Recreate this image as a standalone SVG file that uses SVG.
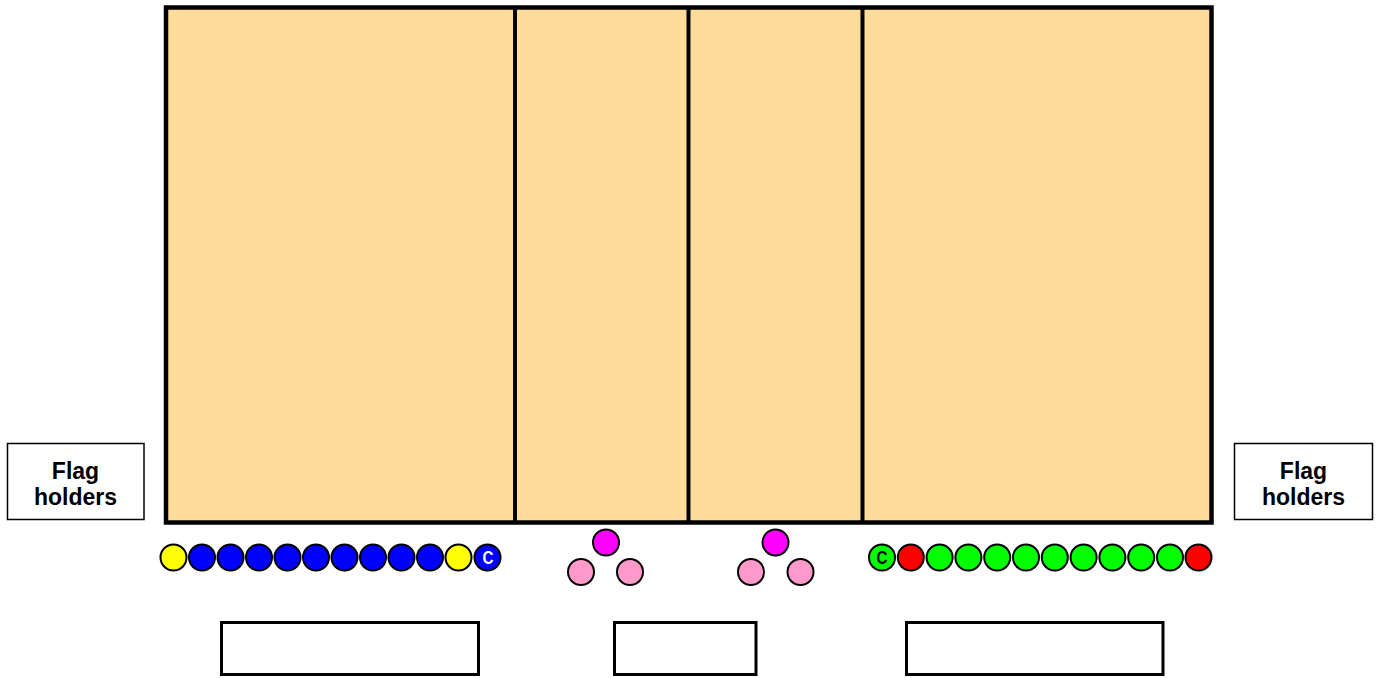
<svg xmlns="http://www.w3.org/2000/svg" width="1379" height="678" viewBox="0 0 1379 678">
<style>
.court{fill:#FFDC99;stroke:#000;stroke-width:4.5}
.div{stroke:#000;stroke-width:4}
.flag{fill:#fff;stroke:#000;stroke-width:1.5}
.lbl{font-family:"Liberation Sans",Arial,sans-serif;font-weight:bold;font-size:23px;text-anchor:middle;fill:#000}
.p{stroke:#000;stroke-width:2}
.bx{fill:#fff;stroke:#000;stroke-width:3}
.c{font-family:"Liberation Sans",Arial,sans-serif;font-weight:bold;font-size:19px;text-anchor:middle}
</style>
<g id="court">
<rect class="court" x="166" y="7.5" width="1045.5" height="515"/>
<line class="div" x1="515" y1="7.5" x2="515" y2="522.5"/>
<line class="div" x1="688.5" y1="7.5" x2="688.5" y2="522.5"/>
<line class="div" x1="862.5" y1="7.5" x2="862.5" y2="522.5"/>
</g>
<g id="flag-left">
<rect class="flag" x="7.5" y="443.5" width="136.5" height="76"/>
<text class="lbl" x="75.5" y="479">Flag</text>
<text class="lbl" x="75.5" y="505">holders</text>
</g>
<g id="flag-right">
<rect class="flag" x="1234.5" y="443.5" width="138" height="76"/>
<text class="lbl" x="1303.5" y="479">Flag</text>
<text class="lbl" x="1303.5" y="505">holders</text>
</g>
<g id="team-left">
<circle class="p" cx="173.5" cy="557.5" r="13" fill="#FFFF00"/>
<circle class="p" cx="202" cy="557.5" r="13" fill="#0000FF"/>
<circle class="p" cx="230.5" cy="557.5" r="13" fill="#0000FF"/>
<circle class="p" cx="259" cy="557.5" r="13" fill="#0000FF"/>
<circle class="p" cx="287.5" cy="557.5" r="13" fill="#0000FF"/>
<circle class="p" cx="316" cy="557.5" r="13" fill="#0000FF"/>
<circle class="p" cx="344.5" cy="557.5" r="13" fill="#0000FF"/>
<circle class="p" cx="373" cy="557.5" r="13" fill="#0000FF"/>
<circle class="p" cx="401.5" cy="557.5" r="13" fill="#0000FF"/>
<circle class="p" cx="430" cy="557.5" r="13" fill="#0000FF"/>
<circle class="p" cx="458.5" cy="557.5" r="13" fill="#FFFF00"/>
<circle class="p" cx="487.5" cy="557.5" r="13" fill="#0000FF"/>
<text class="c" x="488" y="564.5" fill="#fff" transform="translate(488 0) scale(0.8 1) translate(-488 0)">C</text>
</g>
<g id="refs-1">
<circle class="p" cx="606" cy="542.5" r="13" fill="#FF00FF"/>
<circle class="p" cx="581" cy="572" r="13" fill="#FF99CC"/>
<circle class="p" cx="630" cy="572" r="13" fill="#FF99CC"/>
</g>
<g id="refs-2">
<circle class="p" cx="775.5" cy="542.5" r="13" fill="#FF00FF"/>
<circle class="p" cx="751" cy="572" r="13" fill="#FF99CC"/>
<circle class="p" cx="800.5" cy="572" r="13" fill="#FF99CC"/>
</g>
<g id="team-right">
<circle class="p" cx="882" cy="557.5" r="13" fill="#00FF00"/>
<text class="c" x="882" y="564.5" fill="#000" transform="translate(882 0) scale(0.8 1) translate(-882 0)">C</text>
<circle class="p" cx="910.8" cy="557.5" r="13" fill="#FF0000"/>
<circle class="p" cx="939.6" cy="557.5" r="13" fill="#00FF00"/>
<circle class="p" cx="968.4" cy="557.5" r="13" fill="#00FF00"/>
<circle class="p" cx="997.2" cy="557.5" r="13" fill="#00FF00"/>
<circle class="p" cx="1026" cy="557.5" r="13" fill="#00FF00"/>
<circle class="p" cx="1054.8" cy="557.5" r="13" fill="#00FF00"/>
<circle class="p" cx="1083.6" cy="557.5" r="13" fill="#00FF00"/>
<circle class="p" cx="1112.4" cy="557.5" r="13" fill="#00FF00"/>
<circle class="p" cx="1141.2" cy="557.5" r="13" fill="#00FF00"/>
<circle class="p" cx="1170" cy="557.5" r="13" fill="#00FF00"/>
<circle class="p" cx="1198.5" cy="557.5" r="13" fill="#FF0000"/>
</g>
<g id="box-left"><rect class="bx" x="221.5" y="622.5" width="257" height="52"/></g>
<g id="box-mid"><rect class="bx" x="614.5" y="622.5" width="141.5" height="52"/></g>
<g id="box-right"><rect class="bx" x="906.5" y="622.5" width="256.5" height="52"/></g>
<g id="connectors"/>
</svg>
